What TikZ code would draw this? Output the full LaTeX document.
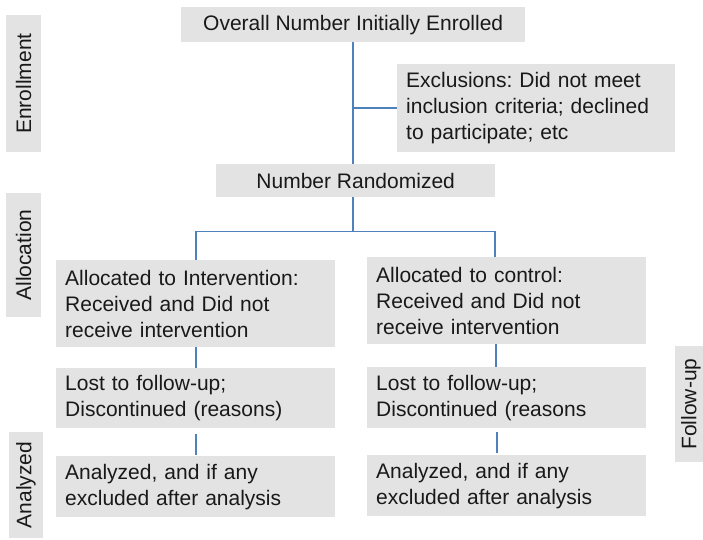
\documentclass[tikz,border=0pt]{standalone}
\usepackage{fontspec}
\setmainfont{Liberation Sans}
\usetikzlibrary{positioning, calc}
\definecolor{boxgray}{HTML}{E3E3E3}
\definecolor{linkblue}{HTML}{4F81BD}
\frenchspacing

\begin{document}
\begin{tikzpicture}[
    x=1pt, y=-1pt,
    every node/.style={font=\fontsize{21}{26}\selectfont, text=black!90},
    headbox/.style={fill=boxgray, anchor=north west, inner sep=0pt, align=center},
    textbox/.style={fill=boxgray, anchor=north west, align=left, text width=261pt, inner xsep=9pt, inner ysep=0pt},
    phase/.style={fill=boxgray, rotate=90, inner sep=0pt, align=center},
    link/.style={draw=linkblue, line width=1.8pt}
]
    \useasboundingbox (0,0) rectangle (703,539);

    % phase labels
    \node[phase, minimum width=137pt, minimum height=35pt] (enroll) at (23.5,83.5) {Enrollment};
    \node[phase, minimum width=124pt, minimum height=35pt] (alloc) at (23.5,255) {Allocation};
    \node[phase, minimum width=106pt, minimum height=34pt] (analyz) at (26,485) {Analyzed};
    \node[phase, minimum width=116pt, minimum height=32pt] (follow) at (691,404) {Follow-up};

    \node[headbox, minimum width=344pt, minimum height=35pt] (enrolled) at (181,7) {Overall Number Initially Enrolled};
    \node[textbox, text width=260pt, inner xsep=9pt, minimum height=88pt] (excl) at (397,64) {Exclusions: Did not meet\\inclusion criteria; declined\\to participate; etc};
    \node[headbox, minimum width=279pt, minimum height=33pt] (rand) at (216,164) {Number Randomized};

    \node[textbox, minimum height=87pt] (intv) at (56,260) {Allocated to Intervention:\\Received and Did not\\receive intervention};
    \node[textbox, minimum height=87pt] (ctrl) at (367,257) {Allocated to control:\\Received and Did not\\receive intervention};

    \node[textbox, minimum height=60pt] (lostI) at (56,368) {Lost to follow-up;\\Discontinued (reasons)};
    \node[textbox, minimum height=61pt] (lostC) at (367,367) {Lost to follow-up;\\Discontinued (reasons};

    \node[textbox, minimum height=61pt] (anaI) at (56,456) {Analyzed, and if any\\excluded after analysis};
    \node[textbox, minimum height=61pt] (anaC) at (367,455) {Analyzed, and if any\\excluded after analysis};

    % connectors
    \draw[link] (enrolled.south) -- (enrolled.south |- rand.north);
    \draw[link] (excl.west) -- (excl.west -| enrolled.south);
    \coordinate (split) at ($(enrolled.south |- rand.south)+(0,34)$);
    \draw[link] (enrolled.south |- rand.south) -- (split);
    \draw[link] (split) -| (intv.north);
    \draw[link] (split) -| ([xshift=-12pt]ctrl.north);
    \draw[link] (intv.south) -- (lostI.north);
    \draw[link] ([xshift=-11pt]ctrl.south) -- ([xshift=-11pt]lostC.north);
    \draw[link, shorten <=6pt, shorten >=1pt] (lostI.south) -- (anaI.north);
    \draw[link, shorten <=4pt, shorten >=2pt] ([xshift=-10pt]lostC.south) -- ([xshift=-10pt]anaC.north);
\end{tikzpicture}
\end{document}
